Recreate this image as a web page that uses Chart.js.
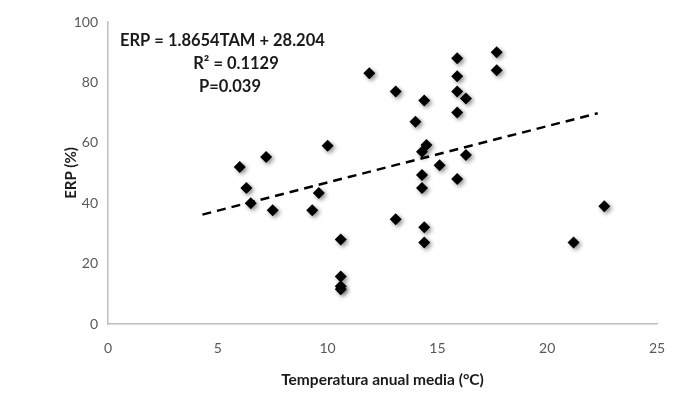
<!DOCTYPE html>
<html>
<head>
<meta charset="utf-8">
<script src="https://cdn.jsdelivr.net/npm/chart.js@4"></script>
<style>
  html, body { margin: 0; padding: 0; background: #fff; }
  #wrap { width: 678px; height: 402px; position: relative; }
</style>
</head>
<body>
<div id="wrap"><canvas id="chart" width="678" height="402"></canvas></div>
<script>
// --- DATA ---
const tempValues = [6.0, 6.3, 6.5, 7.2, 7.5, 9.3, 9.6, 10.0, 10.6, 10.6, 10.6, 10.6,
  11.9, 13.1, 13.1, 14.0, 14.3, 14.3, 14.3, 14.5, 14.4, 14.4, 14.4, 15.1,
  15.9, 15.9, 15.9, 15.9, 15.9, 16.3, 16.3, 17.7, 17.7, 21.2, 22.6];
const erpValues = [52, 45, 40, 55.3, 37.7, 37.7, 43.4, 59, 28, 15.7, 12.5, 11.5,
  83, 77, 34.7, 67, 45, 49.3, 57, 59.3, 74, 32, 27, 52.6,
  88, 82, 77, 70, 48, 74.7, 56, 90, 84, 27, 39];
const trendX = [4.3, 22.3];
const slope = 1.8654;
const intercept = 28.204;
const xTicks = [0, 5, 10, 15, 20, 25];
const yTicks = [0, 20, 40, 60, 80, 100];
const annotationLines = ['ERP = 1.8654TAM + 28.204', 'R\u00B2 = 0.1129', 'P=0.039'];

const points = tempValues.map((t, i) => ({ x: t, y: erpValues[i] }));
const trendPoints = trendX.map(t => ({ x: t, y: slope * t + intercept }));

const FONT = 'Lato, "Open Sans", sans-serif';
const AXIS_GREY = '#bfbfbf';
const TICK_TEXT = '#595959';

// soft drop shadow on markers, like the original
const shadowPlugin = {
  id: 'markerShadow',
  beforeDatasetDraw(chart, args) {
    if (args.index !== 0) return;
    const ctx = chart.ctx;
    ctx.save();
    ctx.shadowColor = 'rgba(0,0,0,0.45)';
    ctx.shadowBlur = 4;
    ctx.shadowOffsetX = 2;
    ctx.shadowOffsetY = 2;
  },
  afterDatasetDraw(chart, args) {
    if (args.index !== 0) return;
    chart.ctx.restore();
  }
};

// equation text in the upper left
const equationPlugin = {
  id: 'equation',
  afterDraw(chart) {
    const ctx = chart.ctx;
    ctx.save();
    ctx.fillStyle = '#1a1a1a';
    ctx.font = 'bold 16.5px ' + FONT;
    ctx.textBaseline = 'middle';
    ctx.textAlign = 'left';
    ctx.fillText(annotationLines[0], 120, 41);
    ctx.textAlign = 'center';
    ctx.fillText(annotationLines[1], 236, 64);
    ctx.fillText(annotationLines[2], 230, 87);
    ctx.restore();
  }
};

new Chart(document.getElementById('chart'), {
  type: 'scatter',
  data: {
    datasets: [
      {
        label: 'ERP',
        data: points,
        pointStyle: 'rectRot',
        pointRadius: 6,
        pointHoverRadius: 6,
        backgroundColor: '#000',
        borderColor: '#000',
        borderWidth: 0
      },
      {
        label: 'Tendencia',
        type: 'line',
        data: trendPoints,
        borderColor: '#000',
        borderWidth: 2.5,
        borderDash: [9, 6],
        pointRadius: 0,
        fill: false
      }
    ]
  },
  options: {
    responsive: false,
    animation: false,
    layout: { padding: { left: 0, right: 21, top: 22, bottom: 0 } },
    plugins: {
      legend: { display: false },
      tooltip: { enabled: false }
    },
    scales: {
      x: {
        type: 'linear',
        min: 0,
        max: 25,
        afterBuildTicks: axis => { axis.ticks = xTicks.map(v => ({ value: v })); },
        afterFit: axis => { axis.height = 78; },
        grid: { display: false, drawOnChartArea: false, drawTicks: true, tickLength: 5, color: AXIS_GREY },
        border: { color: AXIS_GREY, width: 1.5 },
        ticks: { color: TICK_TEXT, font: { family: FONT, size: 14 }, padding: 11 },
        title: {
          display: true,
          text: 'Temperatura anual media (\u00B0C)',
          color: '#1a1a1a',
          font: { family: FONT, size: 15.5, weight: 'bold' },
          padding: { top: 0, bottom: 13 }
        }
      },
      y: {
        min: 0,
        max: 100,
        afterBuildTicks: axis => { axis.ticks = yTicks.map(v => ({ value: v })); },
        afterFit: axis => { axis.width = 108; },
        grid: { display: false, drawOnChartArea: false, drawTicks: true, tickLength: 5, color: AXIS_GREY },
        border: { color: AXIS_GREY, width: 1.5 },
        ticks: { color: TICK_TEXT, font: { family: FONT, size: 14 }, padding: 5 },
        title: {
          display: true,
          text: 'ERP (%)',
          color: '#1a1a1a',
          font: { family: FONT, size: 15, weight: 'bold' },
          padding: { top: 62, bottom: 0 }
        }
      }
    }
  },
  plugins: [shadowPlugin, equationPlugin]
});
</script>
</body>
</html>
